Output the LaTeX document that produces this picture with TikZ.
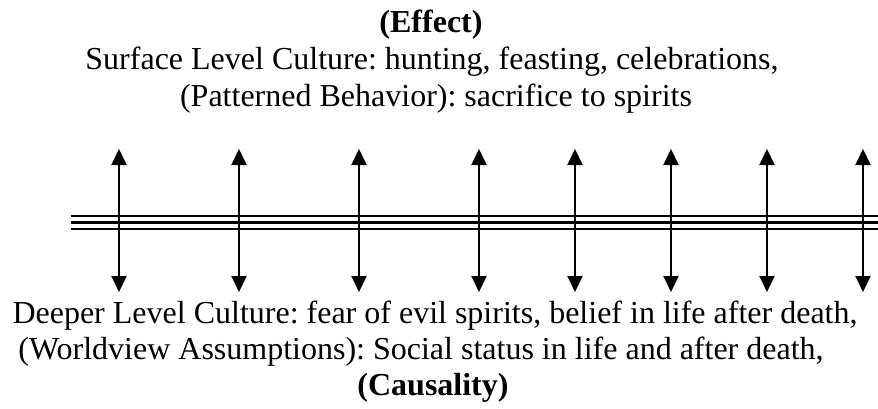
\documentclass[tikz,border=0pt]{standalone}
\usepackage{fontspec}
\setmainfont{Liberation Serif}
\frenchspacing
\usetikzlibrary{arrows.meta}
\begin{document}
\begin{tikzpicture}[x=1pt,y=-1pt,
  txt/.style={anchor=base,inner sep=0pt,font=\fontsize{32}{37}\selectfont\frenchspacing},
  btxt/.style={txt,font=\fontsize{32}{37}\selectfont\bfseries},
  rail/.style={line width=2pt},
  railthick/.style={line width=3.4pt},
  varrow/.style={line width=2pt,{Triangle[width=15pt,length=16pt]}-{Triangle[width=15pt,length=16pt]}}]
\useasboundingbox (0,0) rectangle (878,408);
% top texts
\node[btxt] (effect) at (431,32) {(Effect)};
\node[txt] (surface) at (432,69) {Surface Level Culture: hunting, feasting, celebrations,};
\node[txt] (pattern) at (436,106) {(Patterned Behavior): sacrifice to spirits};
% bottom texts
\node[txt] (deeper) at (435,323) {Deeper Level Culture: fear of evil spirits, belief in life after death,};
\node[txt] (world) at (421,359) {(Worldview Assumptions): Social status in life and after death,};
\node[btxt] (cause) at (433,395) {(Causality)};
% rails
\coordinate (r1a) at (71,216);   \coordinate (r1b) at (878,216);
\coordinate (r2a) at (71,222.5); \coordinate (r2b) at (878,222.5);
\coordinate (r3a) at (71,229);   \coordinate (r3b) at (878,229);
\draw[rail] (r1a) -- (r1b);
\draw[railthick] (r2a) -- (r2b);
\draw[rail] (r3a) -- (r3b);
% arrows
\foreach \i/\x in {1/119,2/239,3/359,4/479,5/575,6/671,7/767,8/863}{
  \coordinate (t\i) at (\x,149);
  \coordinate (b\i) at (\x,292);
  \draw[varrow] (b\i) -- (t\i);
}
\end{tikzpicture}
\end{document}
